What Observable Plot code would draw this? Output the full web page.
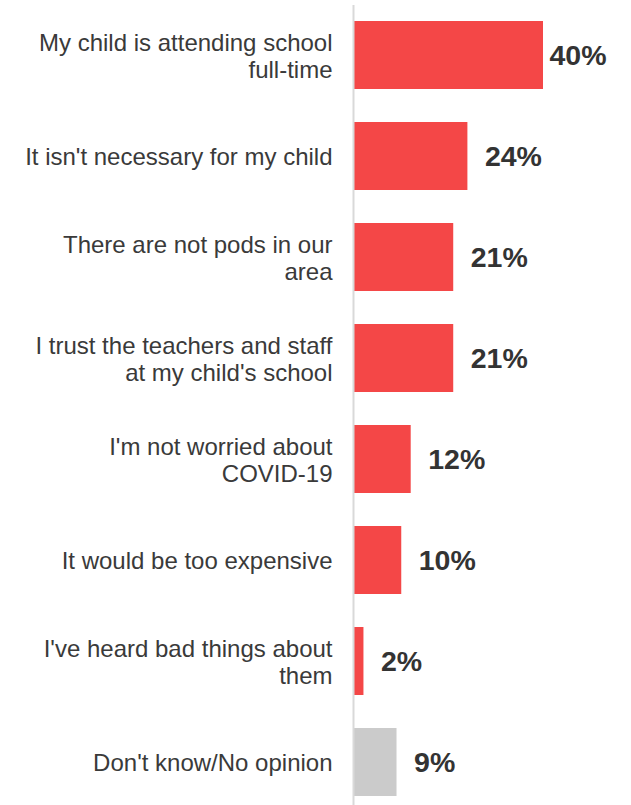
<!DOCTYPE html>
<html>
<head>
<meta charset="utf-8">
<script src="https://cdn.jsdelivr.net/npm/d3@7"></script>
<script src="https://cdn.jsdelivr.net/npm/@observablehq/plot@0.6"></script>
<style>
  html, body { margin: 0; padding: 0; background: #ffffff; }
  #chart { width: 631px; height: 805px; }
</style>
</head>
<body>
<div id="chart"></div>
<script>
const categories = [
  "My child is attending school\nfull-time",
  "It isn't necessary for my child",
  "There are not pods in our\narea",
  "I trust the teachers and staff\nat my child's school",
  "I'm not worried about\nCOVID-19",
  "It would be too expensive",
  "I've heard bad things about\nthem",
  "Don't know/No opinion"
];
const values = [40, 24, 21, 21, 12, 10, 2, 9];
const neutralCategory = "Don't know/No opinion";

const data = categories.map((c, i) => ({category: c, value: values[i]}));
const maxValue = d3.max(values);

const RED = "#f44747";
const GRAY = "#cbcbcb";

const chart = Plot.plot({
  width: 631,
  height: 805,
  marginLeft: 354,
  marginRight: 0,
  marginTop: 5,
  marginBottom: 0,
  style: {fontFamily: "'Liberation Sans', Arial, sans-serif", background: "#ffffff"},
  x: {domain: [0, 40], range: [354, 543], axis: null},
  y: {domain: categories, range: [4.5, 812.5], paddingInner: 0.33, paddingOuter: 0.165, align: 0.5, label: null},
  marks: [
    Plot.barX(data, {
      y: "category",
      x: "value",
      fill: d => d.category === neutralCategory ? GRAY : RED
    }),
    Plot.ruleX([0], {stroke: "#d9d9d9", strokeWidth: 2, dx: -1}),
    Plot.axisY({
      tickSize: 0,
      tickPadding: 22,
      fontSize: 24,
      lineHeight: 1.12,
      color: "#3a3a3a",
      label: null
    }),
    Plot.text(data, {
      filter: d => d.value === maxValue,
      x: "value",
      y: "category",
      text: d => d.value + "%",
      textAnchor: "start",
      dx: 6,
      fontSize: 28.5,
      fontWeight: "bold",
      fill: "#333333"
    }),
    Plot.text(data, {
      filter: d => d.value !== maxValue,
      x: "value",
      y: "category",
      text: d => d.value + "%",
      textAnchor: "start",
      dx: 17,
      fontSize: 28.5,
      fontWeight: "bold",
      fill: "#333333"
    })
  ]
});

document.getElementById("chart").appendChild(chart);
</script>
</body>
</html>
